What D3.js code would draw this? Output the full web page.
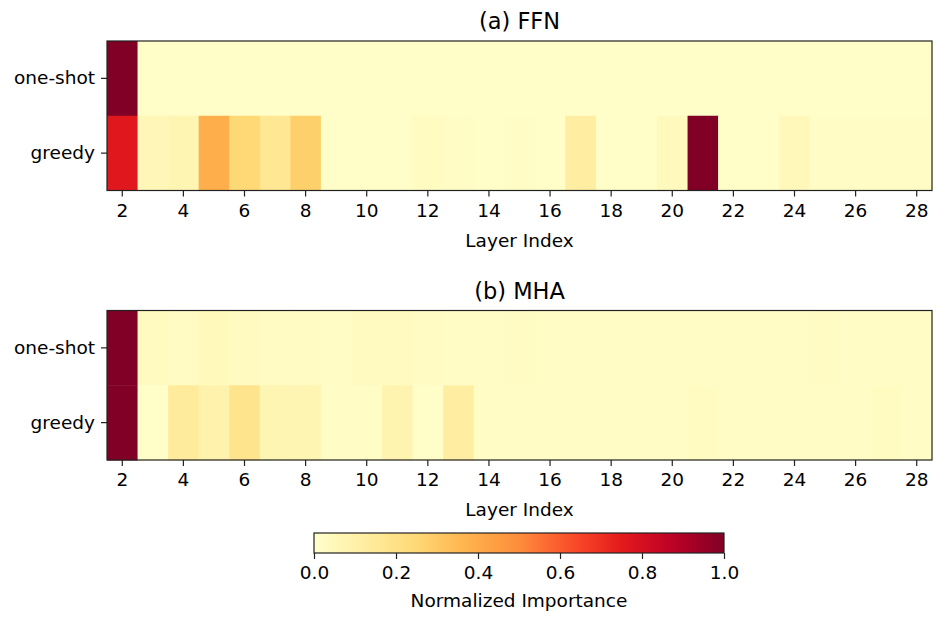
<!doctype html>
<html lang="en">
  <head>
    <meta charset="UTF-8" />
    <title>Layer Importance Heatmaps</title>
    <style>
      body {
        margin: 0;
        background: #fff;
      }
      svg text {
        font-family: "DejaVu Sans", sans-serif;
        fill: #000;
      }
    </style>
  </head>
  <body>
    <script src="https://d3js.org/d3.v7.min.js"></script>
    <script>
      // Layers 2..28 and the two pruning strategies
      const layers = d3.range(2, 29);
      const rows = ["one-shot", "greedy"];
      const layerTicks = [2, 4, 6, 8, 10, 12, 14, 16, 18, 20, 22, 24, 26, 28];
      const barTicks = [0.0, 0.2, 0.4, 0.6, 0.8, 1.0];

      // Normalized importance (layer 2 .. 28)
      const ffnOneShot = [
        1.0, 0.01, 0.01, 0.01, 0.01, 0.01, 0.01, 0.01, 0.01, 0.01, 0.01, 0.01,
        0.01, 0.01, 0.01, 0.01, 0.01, 0.01, 0.01, 0.01, 0.01, 0.01, 0.01, 0.01,
        0.01, 0.01, 0.01,
      ];
      const ffnGreedy = [
        0.76, 0.06, 0.07, 0.39, 0.25, 0.16, 0.28, 0.01, 0.01, 0.01, 0.03, 0.02,
        0.01, 0.02, 0.01, 0.12, 0.01, 0.01, 0.04, 1.0, 0.01, 0.01, 0.05, 0.02,
        0.02, 0.02, 0.02,
      ];
      const mhaOneShot = [
        1.0, 0.035, 0.025, 0.045, 0.035, 0.025, 0.025, 0.02, 0.035, 0.035, 0.025,
        0.02, 0.02, 0.025, 0.02, 0.02, 0.02, 0.02, 0.02, 0.02, 0.02, 0.02, 0.02,
        0.025, 0.02, 0.02, 0.02,
      ];
      const mhaGreedy = [
        1.0, 0.01, 0.14, 0.09, 0.18, 0.07, 0.07, 0.02, 0.02, 0.08, 0.01, 0.12,
        0.02, 0.02, 0.02, 0.02, 0.02, 0.02, 0.02, 0.03, 0.02, 0.02, 0.02, 0.02,
        0.02, 0.03, 0.02,
      ];

      const panels = [
        { title: "(a) FFN", top: 41, values: [ffnOneShot, ffnGreedy] },
        { title: "(b) MHA", top: 310.5, values: [mhaOneShot, mhaGreedy] },
      ];

      const W = 946,
        H = 623;
      const left = 107,
        right = 932,
        panelH = 149.5;
      const tickFont = "18.5px";

      const svg = d3
        .select("body")
        .append("svg")
        .attr("width", W)
        .attr("height", H);

      // matplotlib YlOrRd: linear segments through the 9 ColorBrewer colours
      const ylorrd = d3.schemeYlOrRd[9];
      const color = d3
        .scaleLinear()
        .domain(d3.range(9).map((i) => i / 8))
        .range(ylorrd)
        .clamp(true);

      const x = d3.scaleBand().domain(layers).range([left, right]).padding(0);

      panels.forEach((p) => {
        const y = d3
          .scaleBand()
          .domain(rows)
          .range([p.top, p.top + panelH])
          .padding(0);
        const g = svg.append("g");

        const cells = [];
        rows.forEach((r, ri) =>
          layers.forEach((l, li) =>
            cells.push({ row: r, layer: l, v: p.values[ri][li] }),
          ),
        );

        g.selectAll("rect.cell")
          .data(cells)
          .enter()
          .append("rect")
          .attr("class", "cell")
          .attr("x", (d) => x(d.layer))
          .attr("y", (d) => y(d.row))
          .attr("width", x.bandwidth() + 0.5)
          .attr("height", y.bandwidth() + 0.5)
          .attr("fill", (d) => color(d.v));

        g.append("rect")
          .attr("x", left)
          .attr("y", p.top)
          .attr("width", right - left)
          .attr("height", panelH)
          .attr("fill", "none")
          .attr("stroke", "#222")
          .attr("stroke-width", 1.2);

        const xAxis = g
          .append("g")
          .attr("transform", `translate(0,${p.top + panelH})`)
          .call(d3.axisBottom(x).tickValues(layerTicks).tickSize(6).tickPadding(7));
        xAxis.select(".domain").remove();
        xAxis.selectAll("line").attr("stroke", "#222").attr("stroke-width", 1.2);
        xAxis.selectAll("text").style("font-size", tickFont);

        const yAxis = g
          .append("g")
          .attr("transform", `translate(${left},0)`)
          .call(d3.axisLeft(y).tickSize(6).tickPadding(6));
        yAxis.select(".domain").remove();
        yAxis.selectAll("line").attr("stroke", "#222").attr("stroke-width", 1.2);
        yAxis.selectAll("text").style("font-size", tickFont);

        g.append("text")
          .attr("x", (left + right) / 2)
          .attr("y", p.top - 12)
          .attr("text-anchor", "middle")
          .style("font-size", "22.5px")
          .text(p.title);

        g.append("text")
          .attr("x", (left + right) / 2)
          .attr("y", p.top + panelH + 56)
          .attr("text-anchor", "middle")
          .style("font-size", tickFont)
          .text("Layer Index");
      });

      // Colour bar
      const cbLeft = 314,
        cbRight = 724,
        cbTop = 533,
        cbH = 20;
      const defs = svg.append("defs");
      const grad = defs
        .append("linearGradient")
        .attr("id", "cbgrad")
        .attr("x1", "0%")
        .attr("x2", "100%");
      d3.range(0, 1.0001, 0.05).forEach((t) =>
        grad
          .append("stop")
          .attr("offset", `${t * 100}%`)
          .attr("stop-color", color(t)),
      );
      svg
        .append("rect")
        .attr("x", cbLeft)
        .attr("y", cbTop)
        .attr("width", cbRight - cbLeft)
        .attr("height", cbH)
        .attr("fill", "url(#cbgrad)")
        .attr("stroke", "#222")
        .attr("stroke-width", 1.2);

      const cbScale = d3.scaleLinear().domain([0, 1]).range([cbLeft, cbRight]);
      const cbAxis = svg
        .append("g")
        .attr("transform", `translate(0,${cbTop + cbH})`)
        .call(
          d3
            .axisBottom(cbScale)
            .tickValues(barTicks)
            .tickFormat(d3.format(".1f"))
            .tickSize(6)
            .tickPadding(7),
        );
      cbAxis.select(".domain").remove();
      cbAxis.selectAll("line").attr("stroke", "#222").attr("stroke-width", 1.2);
      cbAxis.selectAll("text").style("font-size", tickFont);

      svg
        .append("text")
        .attr("x", (cbLeft + cbRight) / 2)
        .attr("y", 606.5)
        .attr("text-anchor", "middle")
        .style("font-size", tickFont)
        .text("Normalized Importance");
    </script>
  </body>
</html>
